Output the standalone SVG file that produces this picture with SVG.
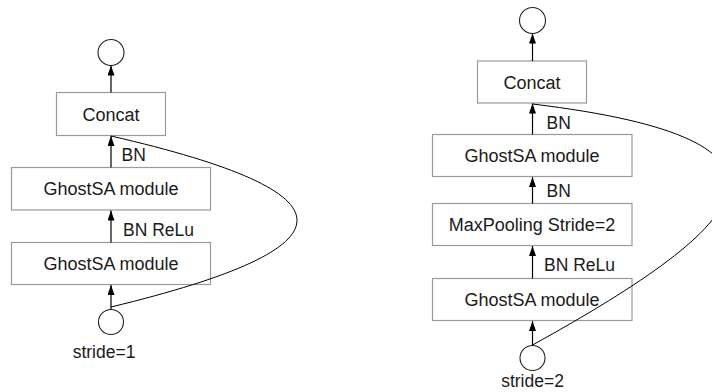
<svg xmlns="http://www.w3.org/2000/svg" width="712" height="392" viewBox="0 0 712 392">
<defs>
<marker id="ah" markerWidth="10" markerHeight="7" refX="10" refY="3.5" orient="auto" markerUnits="userSpaceOnUse">
<path d="M0,0 L10,3.5 L0,7 z" fill="#000"/>
</marker>
<style>
.box{fill:#fff;stroke:#9a9a9a;stroke-width:1.2}
.circ{fill:#fff;stroke:#222;stroke-width:1.1}
.t{font-family:"Liberation Sans",Arial,sans-serif;font-size:17.5px;fill:#1a1a1a}
.bt{font-family:"Liberation Sans",Arial,sans-serif;font-size:18px;fill:#1a1a1a;text-anchor:middle}
.ar{stroke:#000;stroke-width:1.2;fill:none;marker-end:url(#ah)}
.cv{stroke:#000;stroke-width:1;fill:none}
</style>
</defs>
<rect width="712" height="392" fill="#fff"/>

<!-- Left diagram -->
<g id="L_out"><ellipse class="circ" cx="111" cy="52.5" rx="13" ry="13"/></g>
<g id="L_concat"><rect class="box" x="56.5" y="92.5" width="109" height="43"/><text class="bt" x="111" y="120.5">Concat</text></g>
<g id="L_ghost2"><rect class="box" x="11.5" y="167.5" width="199" height="42.5"/><text class="bt" x="111" y="195">GhostSA module</text></g>
<g id="L_ghost1"><rect class="box" x="11.5" y="242.5" width="199" height="42"/><text class="bt" x="111" y="270">GhostSA module</text></g>
<g id="L_in"><ellipse class="circ" cx="111" cy="322" rx="12.5" ry="12.5"/><text class="t" x="104" y="358" text-anchor="middle">stride=1</text></g>

<!-- Right diagram -->
<g id="R_out"><ellipse class="circ" cx="532.5" cy="20.5" rx="13" ry="13"/></g>
<g id="R_concat"><rect class="box" x="477.5" y="61" width="109" height="42"/><text class="bt" x="532" y="88.5">Concat</text></g>
<g id="R_ghost2"><rect class="box" x="432.5" y="134.5" width="199.5" height="42"/><text class="bt" x="532" y="162">GhostSA module</text></g>
<g id="R_pool"><rect class="box" x="432.5" y="203.5" width="199.5" height="42"/><text class="bt" x="532" y="231">MaxPooling Stride=2</text></g>
<g id="R_ghost1"><rect class="box" x="432.5" y="278.5" width="199.5" height="42"/><text class="bt" x="532" y="306">GhostSA module</text></g>
<g id="R_in"><ellipse class="circ" cx="532.5" cy="358" rx="12.5" ry="12.5"/><text class="t" x="532.5" y="387" text-anchor="middle">stride=2</text></g>

<g id="connectors">
<path class="ar" d="M111,92.5 V65.5"/>
<path class="ar" d="M111,167.5 V136"/>
<path class="ar" d="M111,242.5 V210.5"/>
<path class="ar" d="M111,309.5 V285"/>
<path class="cv" d="M111,307 C359,247 359,193 111,136"/>
<text class="t" x="121.5" y="161">BN</text>
<text class="t" x="123" y="235.5">BN ReLu</text>

<path class="ar" d="M532.5,61 V33.5"/>
<path class="ar" d="M532.5,134.5 V103.5"/>
<path class="ar" d="M532.5,203.5 V177"/>
<path class="ar" d="M532.5,278.5 V246"/>
<path class="ar" d="M532.5,345.5 V321"/>
<path class="cv" d="M532.5,345 C755,222 830,140 532.5,104"/>
<text class="t" x="546.5" y="129">BN</text>
<text class="t" x="546.5" y="197">BN</text>
<text class="t" x="544" y="271">BN ReLu</text>
</g>
</svg>
